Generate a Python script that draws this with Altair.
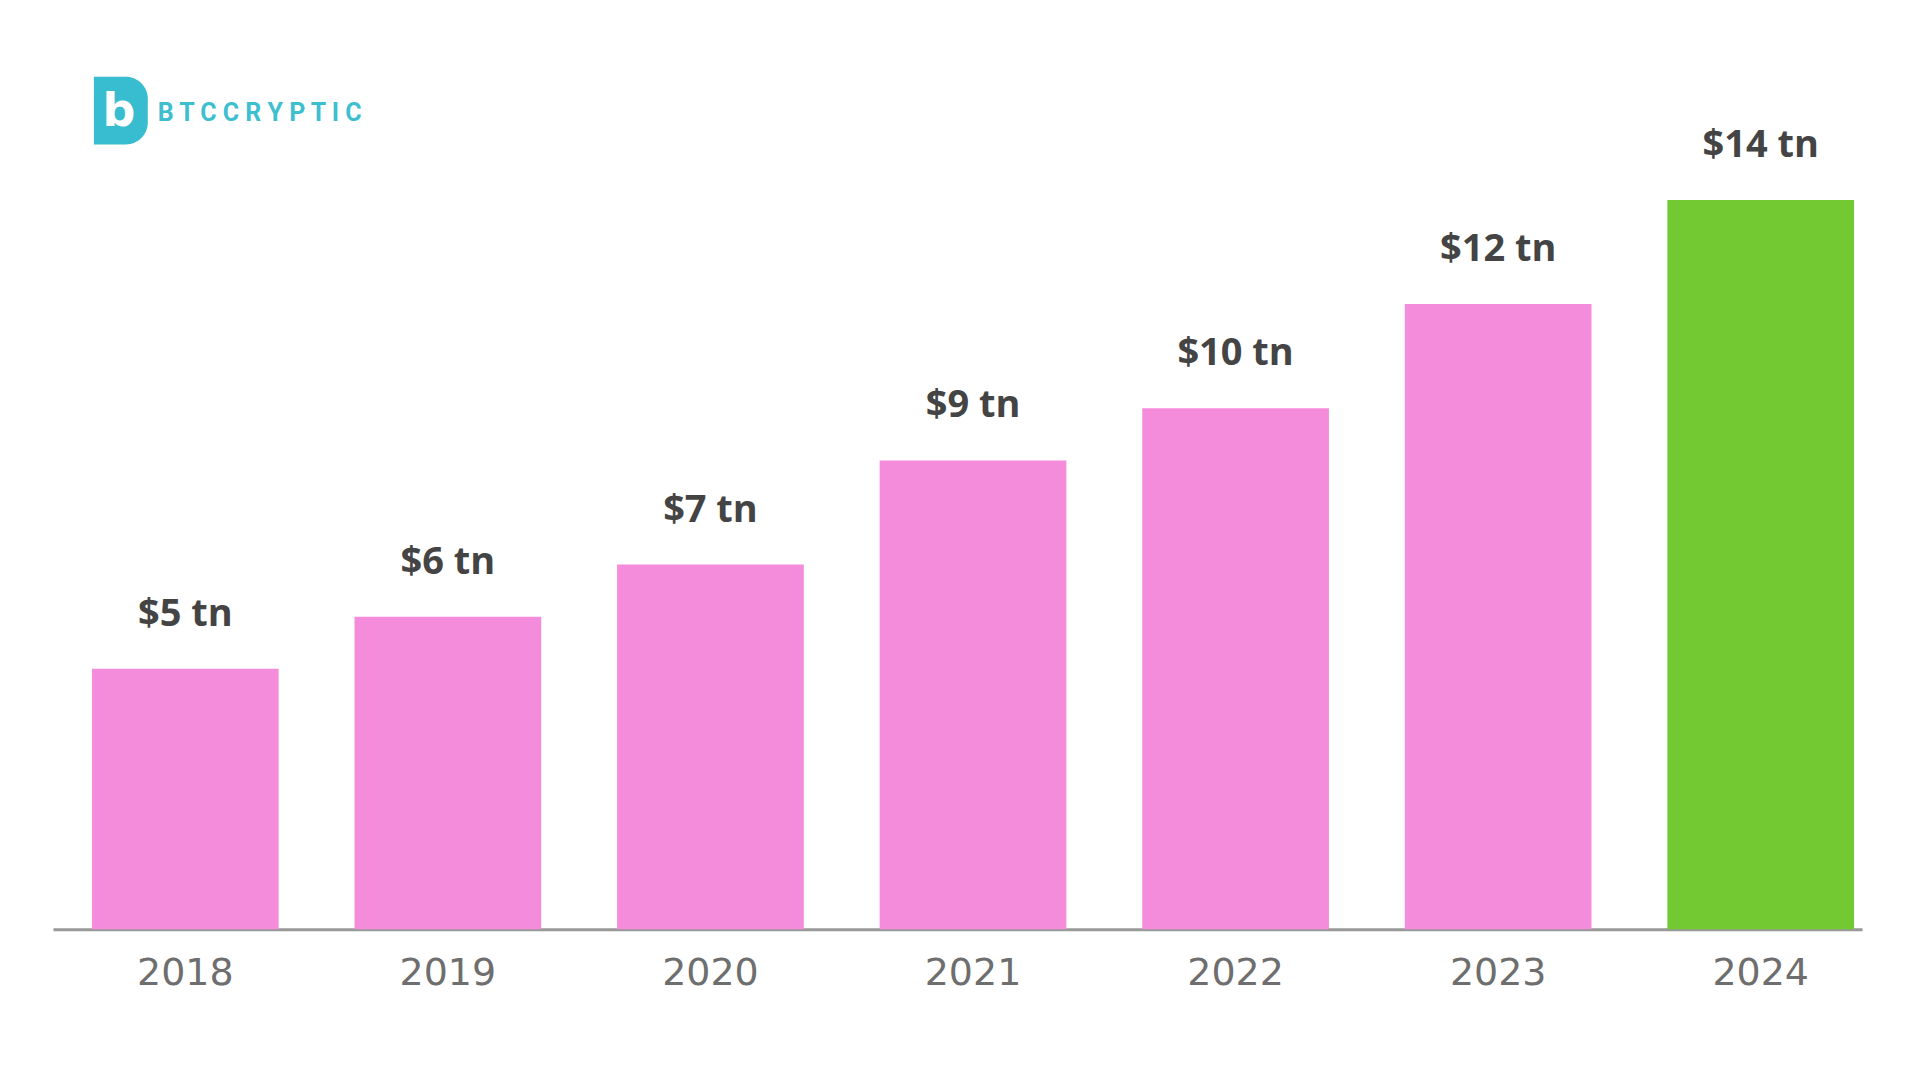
import altair as alt
import pandas as pd

years = ["2018", "2019", "2020", "2021", "2022", "2023", "2024"]
values = [5, 6, 7, 9, 10, 12, 14]
labels = ["$5 tn", "$6 tn", "$7 tn", "$9 tn", "$10 tn", "$12 tn", "$14 tn"]
highlight = ["no", "no", "no", "no", "no", "no", "yes"]

df = pd.DataFrame({"year": years, "value": values, "label": labels, "hl": highlight})

W, H = 1812, 835

x = alt.X("year:N", sort=years,
          scale=alt.Scale(paddingInner=0.289, paddingOuter=0.0895, align=0.83),
          axis=alt.Axis(title=None, labelAngle=0, ticks=False, domainColor="#999999",
                        domainWidth=3, labelFont="DejaVu Sans", labelFontSize=38,
                        labelColor="#6E6E6E", labelPadding=25, grid=False))
y = alt.Y("value:Q", scale=alt.Scale(domain=[0, 16], nice=False), axis=None)

base = alt.Chart(df)

bars = base.mark_bar().encode(
    x=x, y=y,
    color=alt.Color("hl:N", scale=alt.Scale(domain=["no", "yes"], range=["#F58BDB", "#73C932"]), legend=None),
)

text = base.mark_text(font="Open Sans", fontWeight="bold", fontSize=38, color="#444444",
                      baseline="alphabetic", dy=-43).encode(x=x, y=y, text="label:N")

logo_df = pd.DataFrame({"name": ["BTCCRYPTIC"]})
logo_bg = alt.Chart(logo_df).mark_rect(color="#38BCCF", cornerRadiusTopRight=22,
                                        cornerRadiusBottomRight=22).encode(
    x=alt.value(41), x2=alt.value(95), y=alt.value(-19), y2=alt.value(49))
logo_b = alt.Chart(logo_df).mark_text(text="b", font="DejaVu Sans", fontWeight="bold",
                                      fontSize=46, color="#FFFFFF", baseline="middle").encode(
    x=alt.value(66), y=alt.value(16))
logo_t = alt.Chart(logo_df).mark_text(font="Roboto", fontWeight="bold", fontSize=25,
                                      color="#3DBFCF", align="left", baseline="middle").encode(
    x=alt.value(105), y=alt.value(17), text=alt.value("B T C C R Y P T I C"))

chart = alt.layer(bars, text, logo_bg, logo_b, logo_t).properties(
    width=W, height=H,
    autosize=alt.AutoSizeParams(type="none"),
    padding={"left": 45, "top": 87, "right": 50, "bottom": 100},
    background="#FFFFFF",
).configure_view(stroke=None)

chart.save("out.html", embed_options={"renderer": "svg", "actions": False})
